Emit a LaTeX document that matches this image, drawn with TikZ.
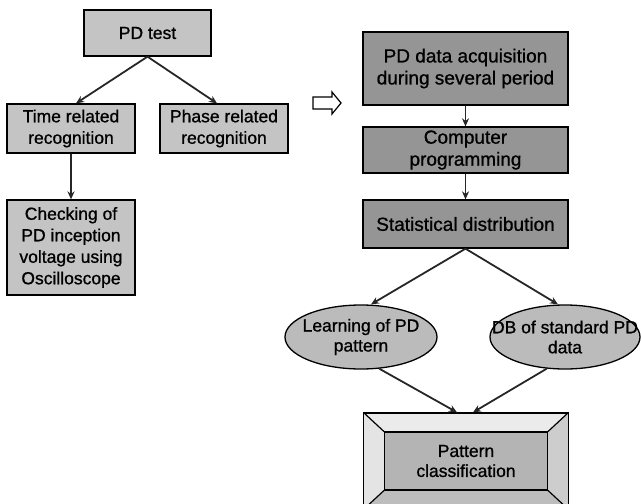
\documentclass[tikz,border=0pt]{standalone}
\usepackage{fontspec}
\setmainfont{Liberation Sans}[FakeBold=0.9]
\usetikzlibrary{arrows.meta,calc,shapes.geometric}
\definecolor{lightfill}{HTML}{C4C4C4}
\definecolor{darkfill}{HTML}{959595}
\definecolor{ellfill}{HTML}{BBBBBB}
\definecolor{innerfill}{HTML}{B4B4B4}
\definecolor{bevtop}{HTML}{EBEBEB}
\definecolor{bevleft}{HTML}{E4E4E4}
\definecolor{bevright}{HTML}{CDCDCD}
\definecolor{bevbot}{HTML}{BDBDBD}
\begin{document}
\begin{tikzpicture}[x=1pt,y=-1pt,
  box/.style={draw=black,line width=1.3pt,inner sep=0pt,align=center,font=\fontsize{17.5}{21.5}\selectfont},
  lbox/.style={box,fill=lightfill},
  rbox/.style={box,fill=darkfill,font=\fontsize{19}{22}\selectfont},
  ell/.style={ellipse,draw=black,line width=1.3pt,fill=ellfill,inner sep=0pt},
  lbl/.style={align=center,inner sep=0pt,font=\fontsize{17.5}{20}\selectfont},
  conn/.style={draw=black!85,line width=1.8pt,-{Stealth[length=8pt,width=7pt]}}]
\useasboundingbox (0,0) rectangle (641,504);
% left column
\node[lbox,minimum width=127pt,minimum height=46pt] (pdtest) at (147.5,33) {PD test};
\node[lbox,minimum width=128pt,minimum height=49pt] (time) at (71,128.5) {Time related\\recognition};
\node[lbox,minimum width=128pt,minimum height=49pt] (phase) at (224,128.5) {Phase related\\recognition};
\node[lbox,minimum width=128pt,minimum height=95pt] (check) at (71,247.5) {Checking of\\PD inception\\voltage using\\Oscilloscope};
\draw[conn] (pdtest.south) -- ([xshift=5pt]time.north);
\draw[conn] (pdtest.south) -- ([xshift=-7pt]phase.north);
\draw[conn] (time.south) -- (check.north);
% hollow arrow
\draw[line width=1.2pt,fill=white,line join=miter] (313,97) -- (332,97) -- (332,92) -- (341,103) -- (332,114) -- (332,109) -- (313,109) -- cycle;
% right column
\node[rbox,minimum width=205pt,minimum height=73pt] (acq) at (465.5,68.5) {PD data acquisition\\during several period};
\node[rbox,minimum width=205pt,minimum height=46pt] (comp) at (465.5,150) {Computer\\programming};
\node[rbox,minimum width=205pt,minimum height=48pt] (stat) at (465.5,224) {Statistical distribution};
\draw[conn] (acq.south) -- (comp.north);
\draw[conn] (comp.south) -- (stat.north);
% ellipses
\node[ell,minimum width=152pt,minimum height=64pt] (learn) at (361,337) {};
\node[lbl] at (learn) {Learning of PD\\pattern};
\node[ell,minimum width=150pt,minimum height=64pt] (db) at (565,337) {};
\node[lbl] at (db) {DB of standard PD\\data};
\draw[conn] (stat.south) -- ([xshift=10pt]learn.north);
\draw[conn] (stat.south) -- ([xshift=-7pt]db.north);
% pattern classification (bevelled box)
\node[draw=black,line width=1.3pt,fill=bevtop,minimum width=204pt,minimum height=96pt,inner sep=0pt] (pattern) at (466,461) {};
\node[minimum width=163pt,minimum height=58pt,inner sep=0pt] (pinner) at (466,461) {};
\fill[bevleft] (pattern.north west) -- (pinner.north west) -- (pinner.south west) -- (pattern.south west) -- cycle;
\fill[bevright] (pattern.north east) -- (pinner.north east) -- (pinner.south east) -- (pattern.south east) -- cycle;
\fill[bevbot] (pattern.south west) -- (pinner.south west) -- (pinner.south east) -- (pattern.south east) -- cycle;
\draw[line width=1.2pt] (pattern.north west) -- (pinner.north west)
  (pattern.north east) -- (pinner.north east)
  (pattern.south west) -- (pinner.south west)
  (pattern.south east) -- (pinner.south east);
\draw[line width=1.3pt] (pattern.north west) rectangle (pattern.south east);
\node[draw=black,line width=1.3pt,fill=innerfill,minimum width=163pt,minimum height=58pt,inner sep=0pt,align=center,font=\fontsize{17.5}{20}\selectfont] at (pinner) {Pattern\\classification};
\draw[conn] (learn.-60) -- ([xshift=-9pt]pattern.north);
\draw[conn] (db.240) -- ([xshift=7pt]pattern.north);
\end{tikzpicture}
\end{document}
